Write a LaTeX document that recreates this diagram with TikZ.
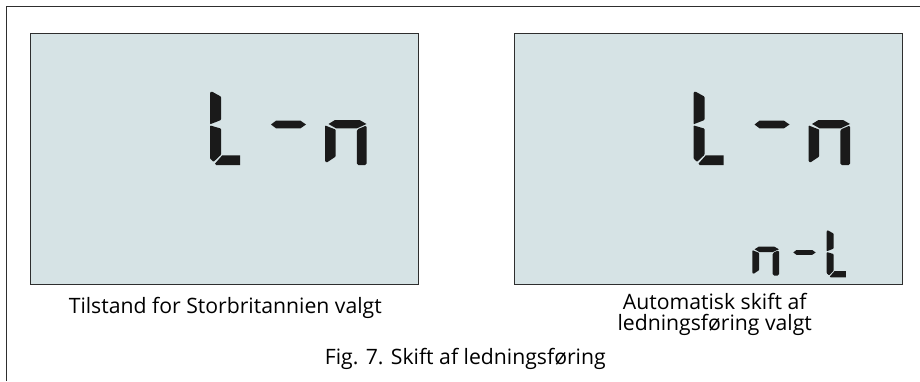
\documentclass[tikz,border=0pt]{standalone}
\usepackage{fontspec}
\setmainfont{Open Sans}
\definecolor{lcd}{HTML}{D6E3E5}
\definecolor{segc}{HTML}{1A1A1A}
\definecolor{framec}{HTML}{2E2E2E}
\tikzset{
  panel/.style={draw=framec, line width=1.2pt, fill=lcd, minimum width=387.6pt, minimum height=250.6pt, inner sep=0pt},
  caption/.style={font=\fontsize{21.2}{24}\selectfont, text=black, inner sep=0pt, align=center},
  segfill/.style={fill=segc, draw=none},
  glyphL/.pic={
    \fill[segfill, rounded corners=0.8pt] (1,1.5) -- (2.5,0.4) -- (12,5.6) -- (12,29) -- (1,33.3) -- cycle;
    \fill[segfill, rounded corners=0.8pt] (1,34.4) -- (12,37.6) -- (12,63.8) -- (4.6,70.8) -- (1,67.5) -- cycle;
    \fill[segfill] (13.2,64.4) -- (31,64.4) -- (31,74) -- (7.2,74) -- (6,72.6) -- cycle;
  },
  glyphD/.pic={
    \fill[segfill] (0,3.8) -- (5,0) -- (29.5,0) -- (35,3.8) -- (29.5,7.6) -- (5,7.6) -- cycle;
  },
  glyphN/.pic={
    \fill[segfill] (3.5,4) -- (10,0) -- (34.5,0) -- (41.5,4) -- (31.8,8.4) -- (11.2,8.4) -- cycle;
    \fill[segfill, rounded corners=0.8pt] (0,5.4) -- (10.7,9.6) -- (10.7,36.6) -- (1.6,42.6) -- (0,41) -- cycle;
    \fill[segfill, rounded corners=1.5pt] (31.8,9.6) -- (41.7,5.4) -- (41.7,45) -- (31.8,45) -- cycle;
  }
}
\begin{document}
\begin{tikzpicture}[x=1pt,y=-1pt]
\useasboundingbox (0,0) rectangle (920,381);
% outer frame
\coordinate (fb) at (6.5,381);
\coordinate (ft) at (6.5,6.5);
\coordinate (fr) at (920,6.5);
\draw[framec, line width=1.9pt] (fb) -- (ft) -- (fr);
% panels
\node[panel] (p1) at (224.5,159) {};
\node[panel] (p2) at (708.5,159) {};
% left display
\pic at (209,91) {glyphL};
\pic at (271,120.7) {glyphD};
\pic at (325,120) {glyphN};
% right display
\pic at (692.5,91) {glyphL};
\pic at (754.5,120.7) {glyphD};
\pic at (808.5,120) {glyphN};
\pic[scale=0.64] at (752.3,246.7) {glyphN};
\pic[scale=0.64] at (793.3,250) {glyphD};
\pic[scale=0.64] at (826,230) {glyphL};
% captions
\node[caption, anchor=base] (c1) at (225.3,313.3) {Tilstand for Storbritannien valgt};
\node[caption, anchor=base] (c2a) at (714.7,309) {Automatisk skift af};
\node[caption, anchor=base] (c2b) at (714.7,330.7) {ledningsføring valgt};
\node[caption, anchor=base] (c3) at (465.3,364.3) {Fig. 7. Skift af ledningsføring};
\end{tikzpicture}
\end{document}
